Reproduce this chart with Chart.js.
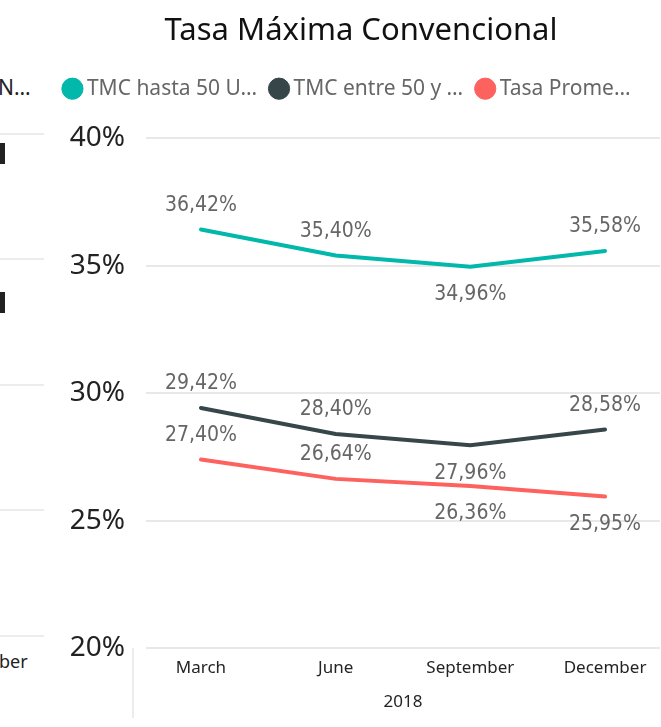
<!DOCTYPE html>
<html>
<head>
<meta charset="UTF-8">
<title>Tasa Máxima Convencional</title>
<script src="https://cdn.jsdelivr.net/npm/chart.js"></script>
<style>
body{
  margin:0;
  background:#fff;
  width:661px;
  height:727px;
  overflow:hidden;
  position:relative;
  font-family:'Noto Sans';
}
.box{position:absolute;left:0;top:0;width:722px;height:727px;}
.grid{position:absolute;left:0;width:44px;height:2px;background:#ececec;}
.txt{position:absolute;color:#222;}
.bar{position:absolute;left:0;width:5px;background:#222;}
</style>
</head>
<body>

<!-- bits of the neighbouring visual, cut off at the left edge -->
<div class="txt" style="left:-2px;top:73px;font-size:21px;">N…</div>
<div class="bar" style="top:143px;height:21px;"></div>
<div class="bar" style="top:292px;height:21px;"></div>
<div class="grid" style="top:133px"></div>
<div class="grid" style="top:258px"></div>
<div class="grid" style="top:384px"></div>
<div class="grid" style="top:509px"></div>
<div class="grid" style="top:635px"></div>
<div class="txt" style="left:-1px;top:649px;font-size:18px;">ber</div>
<div style="position:absolute;left:132px;top:648px;width:2px;height:70px;background:#ececec;"></div>

<div class="box"><canvas id="c" width="722" height="727"></canvas></div>

<script>
const months = ["March","June","September","December"];
const seriesNames = ["TMC hasta 50 U…","TMC entre 50 y …","Tasa Prome…"];
const tmcHasta50 = [36.42,35.40,34.96,35.58];
const tmcEntre50 = [29.42,28.40,27.96,28.58];
const tasaPromedio = [27.40,26.64,26.36,25.95];
const yearLabel = "2018";
const yMin = 20, yMax = 40, yStep = 5;

// where each data label sits relative to its point
const labelSide = [
  ["up","up","down","up"],
  ["up","up","down","up"],
  ["up","up","down","down"]
];
const colors = ["#01B8AA","#374649","#FD625E"];

function pts(arr){ return arr.map((v,i)=>({x:i,y:v})); }

const dataLabels = {
  id:"dataLabels",
  afterDatasetsDraw(chart){
    const ctx = chart.ctx;
    ctx.save();
    ctx.font = "21px 'DejaVu Sans Condensed'";
    ctx.fillStyle = "#666";
    ctx.textAlign = "center";
    ctx.textBaseline = "middle";
    chart.data.datasets.forEach((ds,di)=>{
      chart.getDatasetMeta(di).data.forEach((el,i)=>{
        let t = ds.data[i].y.toFixed(2).replace(".",",")+"%";
        let dy = labelSide[di][i]=="up" ? -24 : 28;
        ctx.fillText(t, el.x, el.y+dy);
      });
    });
    ctx.restore();
  }
};

// extra room under the legend, and the title/legend centred on the whole visual
const headerFix = {
  id:"headerFix",
  beforeInit(chart){
    const fit = chart.legend.fit;
    chart.legend.fit = function(){
      fit.call(this);
      this.height += 29;
    };
  },
  afterLayout(chart){
    chart.titleBlock.right += 62;
    chart.legend.right += 39;
  }
};

new Chart(document.getElementById("c"),{
  type:"line",
  data:{
    datasets:[
      {label:seriesNames[0],data:pts(tmcHasta50),borderColor:colors[0],backgroundColor:colors[0]},
      {label:seriesNames[1],data:pts(tmcEntre50),borderColor:colors[1],backgroundColor:colors[1]},
      {label:seriesNames[2],data:pts(tasaPromedio),borderColor:colors[2],backgroundColor:colors[2]}
    ]
  },
  options:{
    responsive:false,
    animation:false,
    elements:{
      line:{borderWidth:4,tension:0,borderCapStyle:"round"},
      point:{radius:0,hoverRadius:0}
    },
    layout:{padding:{left:0,right:62,top:0,bottom:11}},
    plugins:{
      tooltip:{enabled:false},
      title:{
        display:true,
        text:"Tasa Máxima Convencional",
        color:"#111",
        font:{family:"Noto Sans",size:31,weight:"normal"},
        padding:{top:13,bottom:10}
      },
      legend:{
        display:true,
        labels:{
          usePointStyle:true,
          pointStyle:"circle",
          boxWidth:8,
          boxHeight:15,
          color:"#666",
          font:{family:"Noto Sans",size:21},
          padding:18
        }
      }
    },
    scales:{
      x:{
        type:"linear",
        min:-0.408,
        max:3.408,
        afterBuildTicks(s){ s.ticks = months.map((m,i)=>({value:i})); },
        grid:{display:false,drawTicks:false},
        border:{display:false},
        ticks:{
          callback:(v)=>months[v],
          color:"#252423",
          font:{family:"Noto Sans",size:17},
          padding:10,
          maxRotation:0
        },
        title:{
          display:true,
          text:yearLabel,
          color:"#252423",
          font:{family:"Noto Sans",size:17},
          padding:{top:3,bottom:4}
        }
      },
      y:{
        min:yMin,
        max:yMax,
        afterFit(s){ s.width = 146; },
        ticks:{
          stepSize:yStep,
          callback:(v)=>v+"%",
          color:"#222",
          font:{family:"Noto Sans",size:28},
          padding:21
        },
        grid:{color:"#e8e8e8",lineWidth:2,drawTicks:false},
        border:{display:false}
      }
    }
  },
  plugins:[dataLabels,headerFix]
});
</script>
</body>
</html>
